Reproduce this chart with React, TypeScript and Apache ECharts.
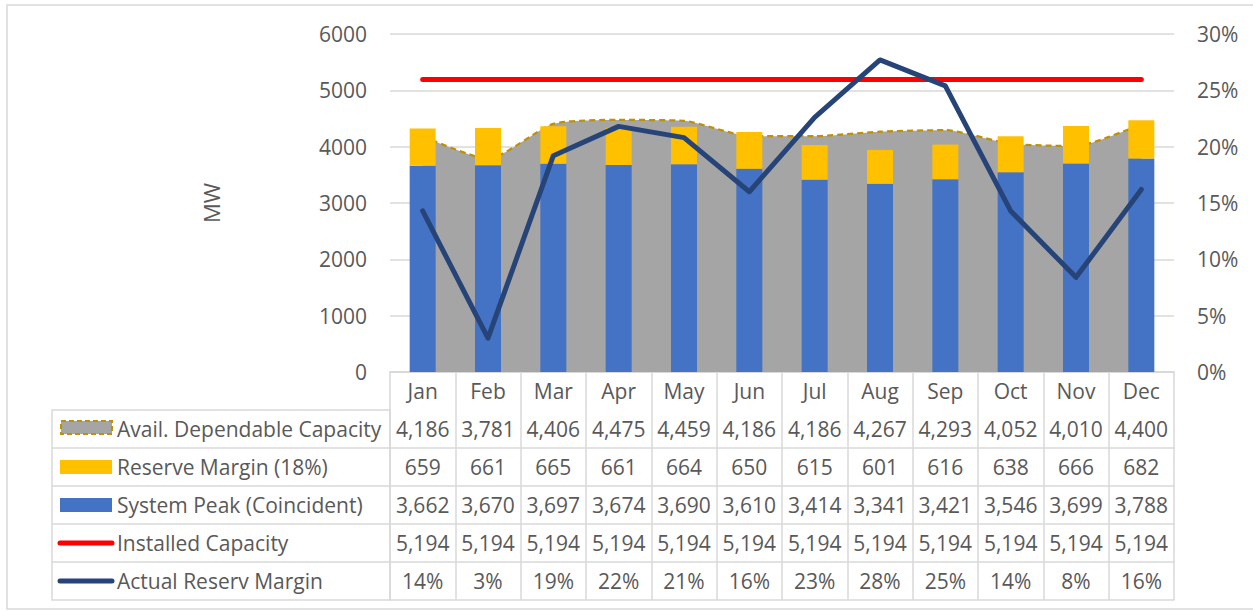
import React, { useEffect, useRef } from "react";
import * as echarts from "echarts";

const months = ["Jan", "Feb", "Mar", "Apr", "May", "Jun", "Jul", "Aug", "Sep", "Oct", "Nov", "Dec"];
const availCapacity = [4186, 3781, 4406, 4475, 4459, 4186, 4186, 4267, 4293, 4052, 4010, 4400];
const reserveMargin = [659, 661, 665, 661, 664, 650, 615, 601, 616, 638, 666, 682];
const systemPeak = [3662, 3670, 3697, 3674, 3690, 3610, 3414, 3341, 3421, 3546, 3699, 3788];
const installedCapacity = [5194, 5194, 5194, 5194, 5194, 5194, 5194, 5194, 5194, 5194, 5194, 5194];
const actualReserve = [0.143, 0.03, 0.192, 0.218, 0.208, 0.16, 0.226, 0.277, 0.254, 0.143, 0.084, 0.162];
const mwTicks = { min: 0, max: 6000, interval: 1000 };
const pctTicks = { min: 0, max: 0.3, interval: 0.05 };

const seriesNames = [
  "Avail. Dependable Capacity",
  "Reserve Margin (18%)",
  "System Peak (Coincident)",
  "Installed Capacity",
  "Actual Reserv Margin",
];

const C_BLUE = "#4472C4";
const C_GOLD = "#FFC000";
const C_GRAY = "#A5A5A5";
const C_DASH = "#BF9000";
const C_RED = "#FF0000";
const C_NAVY = "#264478";
const C_TEXT = "#595959";
const C_GRID = "#D9D9D9";
const FONT = "Open Sans";
const FS = 21;

const GRID_LEFT = 390;
const GRID_RIGHT = 79;
const GRID_TOP = 34;
const AXIS_Y = 372;
const ROW_H = 38;
const LEG_LEFT = 52;

const fmtNum = (v: number) => v.toLocaleString("en-US");
const fmtPct = (v: number) => Math.round(v * 100) + "%";

const tableRows: string[][] = [
  availCapacity.map(fmtNum),
  reserveMargin.map(fmtNum),
  systemPeak.map(fmtNum),
  installedCapacity.map(fmtNum),
  actualReserve.map(fmtPct),
];

export default function App() {
  const ref = useRef<HTMLDivElement>(null);

  useEffect(() => {
    if (!ref.current) return;
    const chart = echarts.init(ref.current, null, { renderer: "svg" });

    const labelStyle = { color: C_TEXT, fontSize: FS, fontFamily: FONT };

    const xAxes: any[] = [
      {
        type: "category",
        data: months,
        position: "bottom",
        offset: 0,
        axisLine: { show: true, lineStyle: { color: C_GRID, width: 1.5 } },
        axisTick: { show: true, interval: 0, length: ROW_H * 6, lineStyle: { color: C_GRID, width: 1.5 } },
        axisLabel: { ...labelStyle, interval: 0, margin: ROW_H / 2, verticalAlign: "middle" },
        splitLine: { show: false },
      },
    ];
    tableRows.forEach((row, i) => {
      xAxes.push({
        type: "category",
        data: months,
        position: "bottom",
        offset: ROW_H * (i + 1),
        axisLine: { show: true, lineStyle: { color: C_GRID, width: 1.5 } },
        axisTick: { show: false },
        axisLabel: {
          ...labelStyle,
          interval: 0,
          margin: ROW_H / 2,
          verticalAlign: "middle",
          formatter: (_v: string, idx: number) => row[idx],
        },
        splitLine: { show: false },
      });
    });
    xAxes.push({
      type: "category",
      data: months,
      position: "bottom",
      offset: ROW_H * 6,
      axisLine: { show: true, lineStyle: { color: C_GRID, width: 1.5 } },
      axisTick: { show: false },
      axisLabel: { show: false },
      splitLine: { show: false },
    });

    const rowCenter = (i: number) => AXIS_Y + ROW_H * (i + 1) + ROW_H / 2;
    const graphics: any[] = [
      {
        type: "rect",
        shape: { x: 7, y: 5, width: 1262, height: 604 },
        style: { fill: "none", stroke: C_GRID, lineWidth: 1.5 },
        silent: true,
      },
      {
        type: "rect",
        shape: { x: LEG_LEFT, y: AXIS_Y + ROW_H, width: GRID_LEFT - LEG_LEFT, height: ROW_H * 5 },
        style: { fill: "none", stroke: C_GRID, lineWidth: 1.5 },
        silent: true,
      },
    ];
    for (let i = 2; i <= 5; i++) {
      graphics.push({
        type: "line",
        shape: { x1: LEG_LEFT, y1: AXIS_Y + ROW_H * i, x2: GRID_LEFT, y2: AXIS_Y + ROW_H * i },
        style: { stroke: C_GRID, lineWidth: 1.5 },
        silent: true,
      });
    }
    // legend keys
    graphics.push({
      type: "rect",
      shape: { x: 61, y: rowCenter(0) - 8, width: 51, height: 13 },
      style: { fill: C_GRAY, stroke: C_DASH, lineWidth: 2, lineDash: [5, 3] },
    });
    graphics.push({
      type: "rect",
      shape: { x: 60, y: rowCenter(1) - 7, width: 52, height: 14 },
      style: { fill: C_GOLD },
    });
    graphics.push({
      type: "rect",
      shape: { x: 60, y: rowCenter(2) - 7, width: 52, height: 14 },
      style: { fill: C_BLUE },
    });
    graphics.push({
      type: "line",
      shape: { x1: 60, y1: rowCenter(3), x2: 112, y2: rowCenter(3) },
      style: { stroke: C_RED, lineWidth: 5, lineCap: "round" },
    });
    graphics.push({
      type: "line",
      shape: { x1: 60, y1: rowCenter(4), x2: 112, y2: rowCenter(4) },
      style: { stroke: C_NAVY, lineWidth: 5, lineCap: "round" },
    });
    seriesNames.forEach((name, i) => {
      graphics.push({
        type: "text",
        x: 117,
        y: rowCenter(i),
        style: {
          text: name,
          fill: C_TEXT,
          fontSize: FS,
          fontFamily: FONT,
          verticalAlign: "middle",
          align: "left",
        },
      });
    });

    chart.setOption({
      animation: false,
      grid: { left: GRID_LEFT, right: GRID_RIGHT, top: GRID_TOP, bottom: 611 - AXIS_Y },
      xAxis: xAxes,
      yAxis: [
        {
          type: "value",
          ...mwTicks,
          name: "MW",
          nameLocation: "middle",
          nameGap: 168,
          nameRotate: 90,
          nameTextStyle: { color: C_TEXT, fontSize: 22, fontFamily: FONT },
          axisLine: { show: false },
          axisTick: { show: false },
          axisLabel: { ...labelStyle, margin: 23, formatter: (v: number) => String(v) },
          splitLine: { lineStyle: { color: C_GRID, width: 1.5 } },
        },
        {
          type: "value",
          ...pctTicks,
          position: "right",
          axisLine: { show: false },
          axisTick: { show: false },
          axisLabel: { ...labelStyle, margin: 23, formatter: (v: number) => Math.round(v * 100) + "%" },
          splitLine: { show: false },
        },
      ],
      graphic: graphics,
      series: [
        {
          name: seriesNames[0],
          type: "line",
          data: availCapacity,
          symbol: "none",
          smooth: 0.2,
          lineStyle: { color: C_DASH, width: 2.25, type: [6, 4] },
          areaStyle: { color: C_GRAY, opacity: 1 },
          itemStyle: { color: C_GRAY },
          z: 1,
        },
        {
          name: seriesNames[2],
          type: "bar",
          stack: "cap",
          data: systemPeak,
          barWidth: 26,
          itemStyle: { color: C_BLUE },
          z: 2,
        },
        {
          name: seriesNames[1],
          type: "bar",
          stack: "cap",
          data: reserveMargin,
          barWidth: 26,
          itemStyle: { color: C_GOLD },
          z: 2,
        },
        {
          name: seriesNames[3],
          type: "line",
          data: installedCapacity,
          symbol: "none",
          lineStyle: { color: C_RED, width: 5, cap: "round" },
          itemStyle: { color: C_RED },
          z: 3,
        },
        {
          name: seriesNames[4],
          type: "line",
          yAxisIndex: 1,
          data: actualReserve,
          symbol: "none",
          lineStyle: { color: C_NAVY, width: 5, cap: "round", join: "round" },
          itemStyle: { color: C_NAVY },
          z: 4,
        },
      ],
    });

    return () => chart.dispose();
  }, []);

  return (
    <div
      ref={ref}
      style={{ position: "absolute", left: 0, top: 0, width: 1253, height: 611, background: "#fff" }}
    />
  );
}
